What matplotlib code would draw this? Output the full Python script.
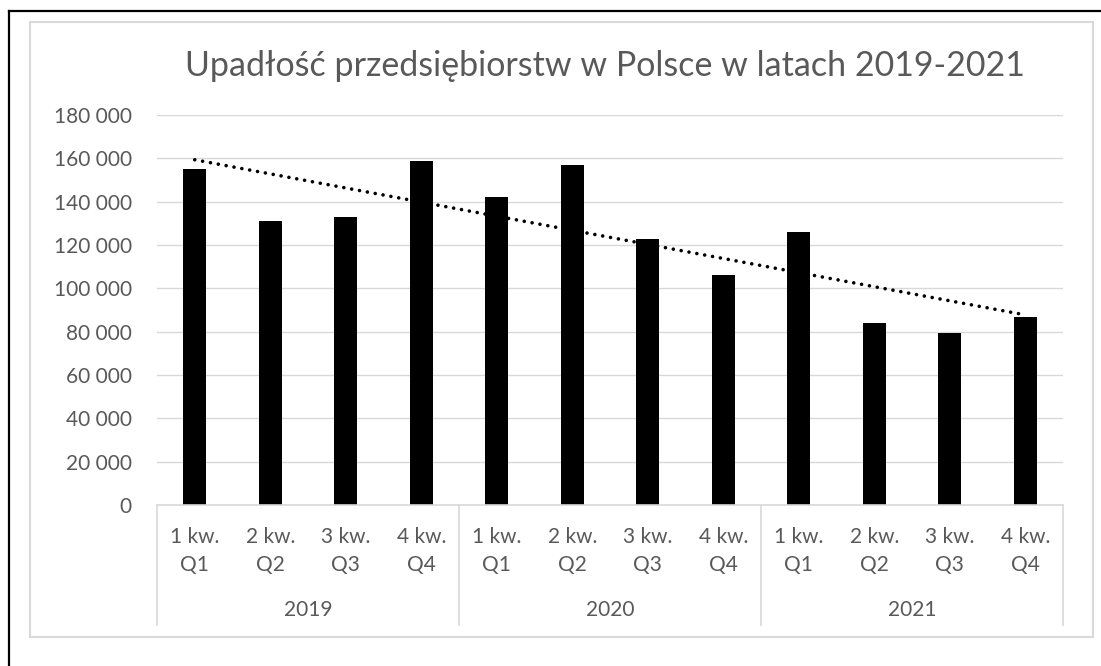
import numpy as np
import matplotlib.pyplot as plt
from matplotlib.lines import Line2D
from matplotlib.patches import Rectangle

# dane z wykresu
lata = ["2019", "2020", "2021"]
kwartaly = ["1 kw.", "2 kw.", "3 kw.", "4 kw."]
kwartaly_q = ["Q1", "Q2", "Q3", "Q4"]
wartosci = [155000, 131000, 133000, 159000,
            142000, 157000, 123000, 106000,
            126000, 84000, 79500, 87000]
y_ticks = [0, 20000, 40000, 60000, 80000, 100000, 120000, 140000, 160000, 180000]

plt.rcParams['font.family'] = ['Lato', 'DejaVu Sans']
szary = '#595959'
linia = '#d9d9d9'

W, H = 1101, 666
fig = plt.figure(figsize=(W / 100, H / 100), dpi=100)

# ramki
fig.add_artist(Line2D([9 / W, 9 / W], [0, 1 - 11 / H], color='black', lw=1.6))
fig.add_artist(Line2D([9 / W, 1], [1 - 11 / H, 1 - 11 / H], color='black', lw=1.6))
fig.add_artist(Rectangle((30 / W, 1 - 637 / H), (1093 - 30) / W, (637 - 22) / H,
                         transform=fig.transFigure, fill=False, ec=linia, lw=1.5))

left, right, top, bottom = 157, 1063, 115, 505
ax = fig.add_axes([left / W, 1 - bottom / H, (right - left) / W, (bottom - top) / H])

n = len(wartosci)
x = np.arange(n)
ax.bar(x, wartosci, width=0.305, color='black', zorder=2)

# linia trendu (liniowa)
a, b = np.polyfit(x, wartosci, 1)
ax.plot(x[[0, -1]], a * x[[0, -1]] + b, color='black', lw=2.6,
        linestyle=(0, (0.01, 2.2)), dash_capstyle='round', zorder=3)

ax.set_xlim(-0.5, n - 0.5)
ax.set_ylim(0, 180000)
ax.set_yticks(y_ticks)
ax.set_yticklabels([f"{v:,}".replace(",", " ") for v in y_ticks])
ax.tick_params(axis='y', length=0, pad=18, labelsize=15, labelcolor=szary)
ax.set_xticks([])
ax.grid(axis='y', color=linia, lw=1, zorder=0)
for s in ax.spines.values():
    s.set_visible(False)

# os kategorii wielopoziomowa
tr = ax.get_xaxis_transform()
h = bottom - top
ax.add_line(Line2D([-0.5, n - 0.5], [0, 0], transform=tr, color=linia, lw=1.2, clip_on=False))
for k in range(len(lata) + 1):
    xs = -0.5 + 4 * k
    ax.add_line(Line2D([xs, xs], [0, -(625 - bottom) / h], transform=tr,
                       color=linia, lw=1.2, clip_on=False))
for i in range(n):
    ax.text(i, -(537 - bottom) / h, kwartaly[i % 4], transform=tr, ha='center',
            va='center', fontsize=15, color=szary)
    ax.text(i, -(565 - bottom) / h, kwartaly_q[i % 4], transform=tr, ha='center',
            va='center', fontsize=15, color=szary)
for k, rok in enumerate(lata):
    ax.text(4 * k + 1.5, -(610 - bottom) / h, rok, transform=tr, ha='center',
            va='center', fontsize=15, color=szary)

fig.text((193 + 1017) / 2 / W, 1 - 66 / H, "Upadłość przedsiębiorstw w Polsce w latach 2019-2021",
         ha='center', va='center', fontsize=24.5, color=szary)

fig.savefig("out.png", dpi=100)
